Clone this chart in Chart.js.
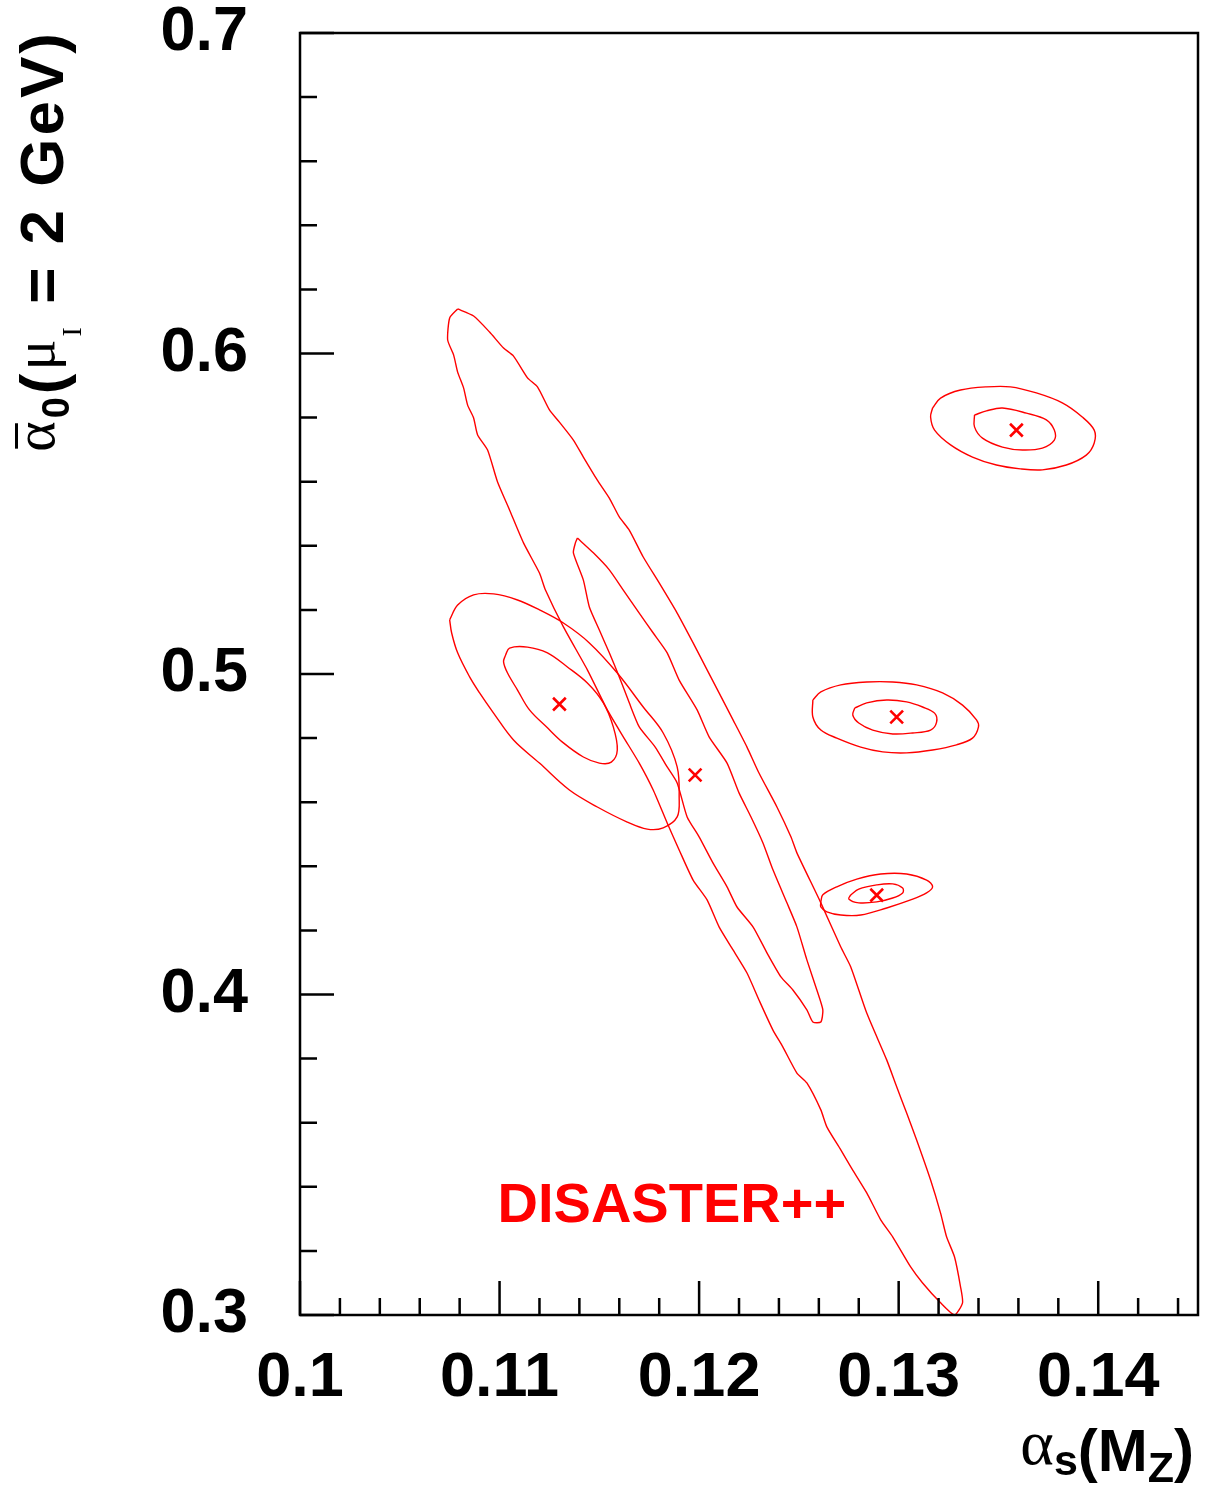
<!DOCTYPE html>
<html>
<head>
<meta charset="utf-8">
<script src="https://cdn.jsdelivr.net/npm/chart.js@4.4.0/dist/chart.umd.min.js"></script>
<style>
  html, body { margin: 0; padding: 0; background: #fff; }
  #wrap { width: 1205px; height: 1509px; }
</style>
</head>
<body>
<div id="wrap"><canvas id="chart" width="1205" height="1509"></canvas></div>
<script>

// Axis ranges and tick marks

const xRange = [0.1, 0.145];
const yRange = [0.3, 0.7];
const xTickValues = [0.1, 0.11, 0.12, 0.13, 0.14];
const xTickLabels = ['0.1', '0.11', '0.12', '0.13', '0.14'];
const yTickValues = [0.3, 0.4, 0.5, 0.6, 0.7];
const yTickLabels = ['0.3', '0.4', '0.5', '0.6', '0.7'];
const xMinorTicks = [0.102, 0.104, 0.106, 0.108, 0.112, 0.114, 0.116, 0.118, 0.122, 0.124,
                     0.126, 0.128, 0.132, 0.134, 0.136, 0.138, 0.142, 0.144];
const yMinorTicks = [0.32, 0.34, 0.36, 0.38, 0.42, 0.44, 0.46, 0.48, 0.52, 0.54, 0.56, 0.58,
                     0.62, 0.64, 0.66, 0.68];

// Best fit points (alpha_s, alpha_0)

const fitPoints = [[0.1130, 0.4906], [0.1198, 0.4685], [0.1299, 0.4866], [0.1289, 0.4310], [0.1359, 0.5761]];

// Contours

const contourWide = [[0.1079,0.6139],[0.1087,0.6117],[0.1095,0.6067],[0.1102,0.6017],[0.1107,0.5992],[0.1114,0.5924],[0.1119,0.5896],[0.1125,0.5824],[0.1130,0.5786],[0.1137,0.5730],[0.1142,0.5677],[0.1149,0.5605],[0.1155,0.5549],[0.1160,0.5490],[0.1165,0.5449],[0.1172,0.5365],[0.1180,0.5284],[0.1189,0.5190],[0.1197,0.5097],[0.1204,0.5013],[0.1210,0.4941],[0.1217,0.4857],[0.1224,0.4772],[0.1230,0.4691],[0.1239,0.4585],[0.1246,0.4492],[0.1249,0.4442],[0.1261,0.4286],[0.1271,0.4148],[0.1276,0.4086],[0.1284,0.3942],[0.1294,0.3796],[0.1299,0.3712],[0.1304,0.3630],[0.1309,0.3546],[0.1316,0.3421],[0.1321,0.3318],[0.1324,0.3244],[0.1328,0.3181],[0.1331,0.3088],[0.1332,0.3038],[0.1328,0.3000],[0.1321,0.3038],[0.1312,0.3100],[0.1306,0.3150],[0.1297,0.3244],[0.1291,0.3297],[0.1284,0.3381],[0.1276,0.3462],[0.1271,0.3515],[0.1264,0.3587],[0.1261,0.3640],[0.1254,0.3724],[0.1249,0.3755],[0.1242,0.3836],[0.1237,0.3889],[0.1230,0.3983],[0.1224,0.4067],[0.1217,0.4139],[0.1210,0.4211],[0.1204,0.4295],[0.1197,0.4357],[0.1190,0.4451],[0.1184,0.4535],[0.1177,0.4638],[0.1170,0.4722],[0.1162,0.4804],[0.1154,0.4888],[0.1144,0.5013],[0.1132,0.5147],[0.1123,0.5262],[0.1120,0.5315],[0.1112,0.5409],[0.1105,0.5512],[0.1099,0.5599],[0.1094,0.5699],[0.1089,0.5746],[0.1087,0.5799],[0.1084,0.5839],[0.1082,0.5892],[0.1079,0.5942],[0.1077,0.5995],[0.1074,0.6042],[0.1075,0.6111]];

const contourNarrow = [[0.1139,0.5424],[0.1147,0.5378],[0.1155,0.5325],[0.1162,0.5262],[0.1170,0.5190],[0.1177,0.5128],[0.1184,0.5066],[0.1190,0.4981],[0.1199,0.4888],[0.1205,0.4804],[0.1214,0.4722],[0.1220,0.4629],[0.1226,0.4554],[0.1232,0.4473],[0.1237,0.4389],[0.1244,0.4286],[0.1249,0.4211],[0.1254,0.4108],[0.1259,0.4014],[0.1262,0.3952],[0.1261,0.3914],[0.1257,0.3914],[0.1254,0.3952],[0.1247,0.4014],[0.1241,0.4055],[0.1234,0.4130],[0.1227,0.4211],[0.1219,0.4273],[0.1214,0.4336],[0.1207,0.4410],[0.1200,0.4492],[0.1194,0.4554],[0.1189,0.4660],[0.1184,0.4710],[0.1178,0.4772],[0.1170,0.4835],[0.1165,0.4910],[0.1160,0.4991],[0.1155,0.5066],[0.1150,0.5137],[0.1145,0.5209],[0.1142,0.5293],[0.1137,0.5378],[0.1138,0.5409]];

const ellipseAOuter = [[0.1075,0.5169],[0.1079,0.5215],[0.1087,0.5247],[0.1097,0.5250],[0.1109,0.5231],[0.1120,0.5200],[0.1132,0.5159],[0.1145,0.5097],[0.1159,0.5003],[0.1172,0.4897],[0.1182,0.4816],[0.1189,0.4710],[0.1190,0.4616],[0.1189,0.4554],[0.1182,0.4520],[0.1174,0.4516],[0.1164,0.4538],[0.1149,0.4585],[0.1135,0.4638],[0.1120,0.4722],[0.1107,0.4794],[0.1097,0.4878],[0.1090,0.4941],[0.1085,0.4991],[0.1079,0.5066],[0.1076,0.5128]];
const ellipseAInner = [[0.1103,0.5059],[0.1105,0.5081],[0.1114,0.5084],[0.1124,0.5066],[0.1134,0.5022],[0.1144,0.4972],[0.1152,0.4910],[0.1157,0.4835],[0.1159,0.4763],[0.1156,0.4725],[0.1150,0.4722],[0.1142,0.4741],[0.1132,0.4785],[0.1124,0.4832],[0.1115,0.4888],[0.1109,0.4950],[0.1104,0.5003],[0.1102,0.5038]];

const ellipseBOuter = [[0.1257,0.4919],[0.1261,0.4944],[0.1271,0.4966],[0.1284,0.4975],[0.1297,0.4975],[0.1309,0.4966],[0.1322,0.4941],[0.1332,0.4903],[0.1339,0.4857],[0.1340,0.4835],[0.1337,0.4800],[0.1329,0.4779],[0.1317,0.4763],[0.1304,0.4754],[0.1292,0.4757],[0.1281,0.4772],[0.1269,0.4800],[0.1261,0.4825],[0.1257,0.4866]];
const ellipseBInner = [[0.1278,0.4894],[0.1284,0.4910],[0.1294,0.4919],[0.1304,0.4913],[0.1312,0.4897],[0.1318,0.4878],[0.1319,0.4850],[0.1316,0.4825],[0.1307,0.4816],[0.1297,0.4813],[0.1287,0.4825],[0.1280,0.4847],[0.1277,0.4872]];

const ellipseCOuter = [[0.1261,0.4289],[0.1262,0.4311],[0.1269,0.4336],[0.1279,0.4360],[0.1291,0.4376],[0.1304,0.4376],[0.1314,0.4357],[0.1317,0.4336],[0.1314,0.4317],[0.1306,0.4295],[0.1294,0.4270],[0.1281,0.4248],[0.1271,0.4248],[0.1264,0.4258],[0.1261,0.4273]];
const ellipseCInner = [[0.1276,0.4311],[0.1280,0.4329],[0.1289,0.4342],[0.1297,0.4345],[0.1302,0.4332],[0.1302,0.4317],[0.1297,0.4301],[0.1289,0.4289],[0.1280,0.4286],[0.1275,0.4298]];

const ellipseDOuter = [[0.1317,0.5830],[0.1321,0.5861],[0.1331,0.5886],[0.1344,0.5896],[0.1356,0.5896],[0.1369,0.5877],[0.1382,0.5846],[0.1392,0.5802],[0.1398,0.5761],[0.1398,0.5721],[0.1394,0.5683],[0.1384,0.5652],[0.1372,0.5637],[0.1361,0.5640],[0.1349,0.5652],[0.1337,0.5677],[0.1326,0.5715],[0.1318,0.5761],[0.1316,0.5802]];
const ellipseDInner = [[0.1338,0.5808],[0.1344,0.5821],[0.1352,0.5830],[0.1364,0.5814],[0.1374,0.5793],[0.1378,0.5761],[0.1378,0.5730],[0.1372,0.5705],[0.1362,0.5699],[0.1352,0.5708],[0.1342,0.5736],[0.1338,0.5771]];

const label = 'DISASTER++';

// Styles

const RED = '#ff0000';
const SANS = '"Liberation Sans", Arial, Helvetica, sans-serif';
const SERIF = '"Liberation Serif", "Times New Roman", serif';

// Building datasets

function contour(points, tension) {
    const closed = points.concat([points[0]]);
    return {
        data: closed.map(p => ({x: p[0], y: p[1]})),
        showLine: true,
        borderColor: RED,
        borderWidth: 1.4,
        pointRadius: 0,
        tension: tension,
        fill: false
    };
}

const datasets = [
    contour(contourWide, 0.2),
    contour(contourNarrow, 0.2),
    contour(ellipseAOuter, 0.35),
    contour(ellipseAInner, 0.35),
    contour(ellipseBOuter, 0.35),
    contour(ellipseBInner, 0.35),
    contour(ellipseCOuter, 0.35),
    contour(ellipseCInner, 0.35),
    contour(ellipseDOuter, 0.35),
    contour(ellipseDInner, 0.35),
    {
        data: fitPoints.map(p => ({x: p[0], y: p[1]})),
        showLine: false,
        pointStyle: 'crossRot',
        pointRadius: 9,
        borderColor: RED,
        borderWidth: 2.6
    }
];

// Function to draw text made of several pieces (sub/superscripts),
// letter by letter so that extra spacing can be added

function drawRuns(ctx, runs, x0, y0, spacing) {
    let x = x0;
    runs.forEach(r => {
        ctx.font = r.font;
        const start = x;
        for (const ch of r.text) {
            ctx.fillText(ch, x, y0 + (r.dy || 0));
            x += ctx.measureText(ch).width + spacing;
        }
        if (r.bar !== undefined) {
            ctx.fillRect(start + 3, y0 + r.bar, x - start - spacing - 5, 3);
        }
    });
    return x - x0 - spacing;
}

function runsWidth(ctx, runs, spacing) {
    let w = 0;
    runs.forEach(r => {
        ctx.font = r.font;
        for (const ch of r.text) { w += ctx.measureText(ch).width + spacing; }
    });
    return w - spacing;
}

const yTitleRuns = [
    {text: '\u03B1', font: '58px ' + SERIF, dy: -9, bar: -48},
    {text: '0', font: 'bold 38px ' + SANS, dy: 6},
    {text: '(', font: 'bold 62px ' + SANS},
    {text: '\u03BC', font: '58px ' + SERIF, dy: -9},
    {text: 'I', font: '28px ' + SERIF, dy: 18},
    {text: ' = 2 GeV)', font: 'bold 62px ' + SANS}
];

const xTitleRuns = [
    {text: '\u03B1', font: '64px ' + SERIF, dy: -7},
    {text: 's', font: 'bold 43px ' + SANS, dy: 4},
    {text: '(', font: 'bold 60px ' + SANS},
    {text: 'M', font: 'bold 60px ' + SANS},
    {text: 'Z', font: 'bold 43px ' + SANS, dy: 11},
    {text: ')', font: 'bold 60px ' + SANS}
];

// Plugin for the frame, inward ticks, axis titles and the label

const decorations = {
    id: 'decorations',
    afterDatasetsDraw(chart) {
        const ctx = chart.ctx;
        const a = chart.chartArea;
        const xs = chart.scales.x;
        const ys = chart.scales.y;
        ctx.save();
        ctx.strokeStyle = '#000';
        ctx.lineWidth = 2.5;
        ctx.beginPath();
        xTickValues.forEach(v => {
            const px = xs.getPixelForValue(v);
            ctx.moveTo(px, a.bottom); ctx.lineTo(px, a.bottom - 34);
        });
        xMinorTicks.forEach(v => {
            const px = xs.getPixelForValue(v);
            ctx.moveTo(px, a.bottom); ctx.lineTo(px, a.bottom - 17);
        });
        yTickValues.forEach(v => {
            const py = ys.getPixelForValue(v);
            ctx.moveTo(a.left, py); ctx.lineTo(a.left + 34, py);
        });
        yMinorTicks.forEach(v => {
            const py = ys.getPixelForValue(v);
            ctx.moveTo(a.left, py); ctx.lineTo(a.left + 17, py);
        });
        ctx.stroke();
        ctx.strokeRect(a.left, a.top, a.right - a.left, a.bottom - a.top);

        // Axis titles
        ctx.fillStyle = '#000';
        ctx.textBaseline = 'alphabetic';
        ctx.textAlign = 'left';
        const xw = runsWidth(ctx, xTitleRuns, 0);
        drawRuns(ctx, xTitleRuns, a.right - 4 - xw, 1471, 0);

        const yw = runsWidth(ctx, yTitleRuns, 3);
        ctx.save();
        ctx.translate(63, a.top + yw);
        ctx.rotate(-Math.PI / 2);
        drawRuns(ctx, yTitleRuns, 0, 0, 3);
        ctx.restore();

        // Program label
        ctx.fillStyle = RED;
        ctx.font = 'bold 56px ' + SANS;
        ctx.fillText(label, xs.getPixelForValue(0.1099), ys.getPixelForValue(0.329));
        ctx.restore();
    }
};

const tickFont = {family: SANS, size: 63, weight: 'bold', lineHeight: 1};

const myChart = new Chart(document.getElementById('chart'), {
    type: 'scatter',
    data: {datasets},
    options: {
        responsive: false,
        animation: false,
        events: [],
        layout: {autoPadding: false, padding: {top: 33, right: 7, left: 0, bottom: 0}},
        plugins: {
            legend: {display: false},
            tooltip: {enabled: false}
        },
        scales: {
            x: {
                type: 'linear',
                min: xRange[0],
                max: xRange[1],
                afterBuildTicks: (scale) => { scale.ticks = xTickValues.map(v => ({value: v})); },
                afterFit: (scale) => {
                    scale.height = 194;
                    scale.paddingLeft = 0;
                    scale.paddingRight = 0;
                },
                grid: {display: false, drawTicks: false},
                border: {display: false},
                ticks: {
                    autoSkip: false,
                    maxRotation: 0,
                    padding: 32,
                    color: '#000',
                    font: tickFont,
                    callback: (value) => xTickLabels[xTickValues.indexOf(value)]
                }
            },
            y: {
                type: 'linear',
                min: yRange[0],
                max: yRange[1],
                afterBuildTicks: (scale) => { scale.ticks = yTickValues.map(v => ({value: v})); },
                afterFit: (scale) => {
                    scale.width = 300;
                    scale.paddingTop = 0;
                    scale.paddingBottom = 0;
                },
                grid: {display: false, drawTicks: false},
                border: {display: false},
                ticks: {
                    autoSkip: false,
                    padding: 52,
                    color: '#000',
                    font: tickFont,
                    callback: (value) => yTickLabels[yTickValues.indexOf(value)]
                }
            }
        }
    },
    plugins: [decorations]
});

</script>
</body>
</html>
